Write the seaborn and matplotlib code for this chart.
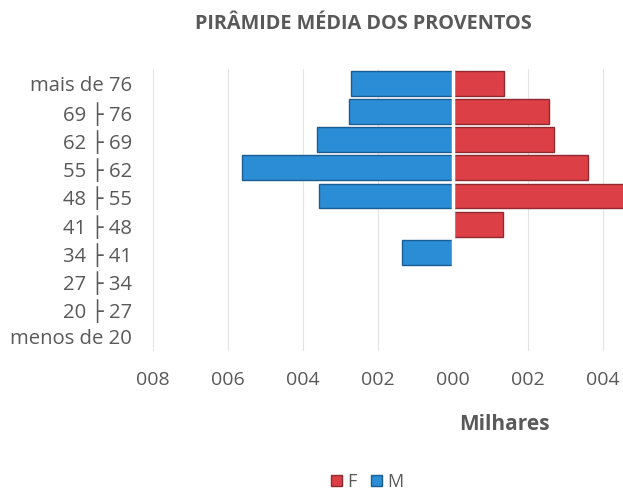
import numpy as np
import pandas as pd
import matplotlib
matplotlib.use('Agg')
import matplotlib.pyplot as plt
from matplotlib.ticker import FuncFormatter
from matplotlib.patches import Patch
import seaborn as sns

# faixas etarias (de cima para baixo)
faixas = ['mais de 76', '69 ├ 76', '62 ├ 69', '55 ├ 62', '48 ├ 55',
          '41 ├ 48', '34 ├ 41', '27 ├ 34', '20 ├ 27', 'menos de 20']
# media dos proventos em milhares
prov_m = [2.72, 2.77, 3.63, 5.63, 3.57, 0.0, 1.36, 0.0, 0.0, 0.0]
prov_f = [1.36, 2.56, 2.69, 3.60, 4.60, 1.33, 0.0, 0.0, 0.0, 0.0]

cor_f = '#dd3f46'
cor_m = '#2a8dd6'

sns.set_style('white')
plt.rcParams['font.family'] = ['Open Sans', 'DejaVu Sans']

df = pd.DataFrame({'faixa': faixas, 'M': [-v for v in prov_m], 'F': prov_f})

fig = plt.figure(figsize=(6.23, 4.98), dpi=100)
ax = fig.add_axes([0.2456, 0.295, 0.7544, 0.566])

ax.grid(axis='x', color='#e3e3e3', linewidth=0.8)
ax.set_axisbelow(True)

sns.barplot(data=df, x='M', y='faixa', order=faixas, color=cor_m, width=0.88,
            edgecolor='#1b5d92', linewidth=1.0, saturation=1, ax=ax)
sns.barplot(data=df, x='F', y='faixa', order=faixas, color=cor_f, width=0.88,
            edgecolor='#8f2a2e', linewidth=1.0, saturation=1, ax=ax)
ax.axvline(0, color='white', linewidth=2.5, zorder=5)

ax.set_xlim(-8, 4.53)
ax.set_xticks([-8, -6, -4, -2, 0, 2, 4])
ax.xaxis.set_major_formatter(FuncFormatter(lambda v, p: '{:03.0f}'.format(abs(v))))
ax.tick_params(axis='x', length=0, pad=14, labelsize=14, labelcolor='#595959')
ax.tick_params(axis='y', length=0, pad=15, labelsize=14.6, labelcolor='#595959')
ax.set_ylabel('')
ax.set_xlabel('')
sns.despine(ax=ax, left=True, bottom=True)

fig.text(0.584, 0.952, 'PIRÂMIDE MÉDIA DOS PROVENTOS', ha='center', va='center',
         fontsize=14.3, fontweight='bold', color='#595959')
fig.text(0.809, 0.147, 'Milhares', ha='center', va='center',
         fontsize=15, fontweight='bold', color='#595959')

handles = [Patch(facecolor=cor_f, edgecolor='#8f2a2e', label='F'),
           Patch(facecolor=cor_m, edgecolor='#1b5d92', label='M')]
fig.legend(handles=handles, loc='center', bbox_to_anchor=(0.59, 0.032), ncol=2,
           frameon=False, fontsize=13, handlelength=0.6, handleheight=0.6,
           handletextpad=0.3, columnspacing=0.8, labelcolor='#595959')

fig.savefig('out.png', dpi=100, facecolor='white')
